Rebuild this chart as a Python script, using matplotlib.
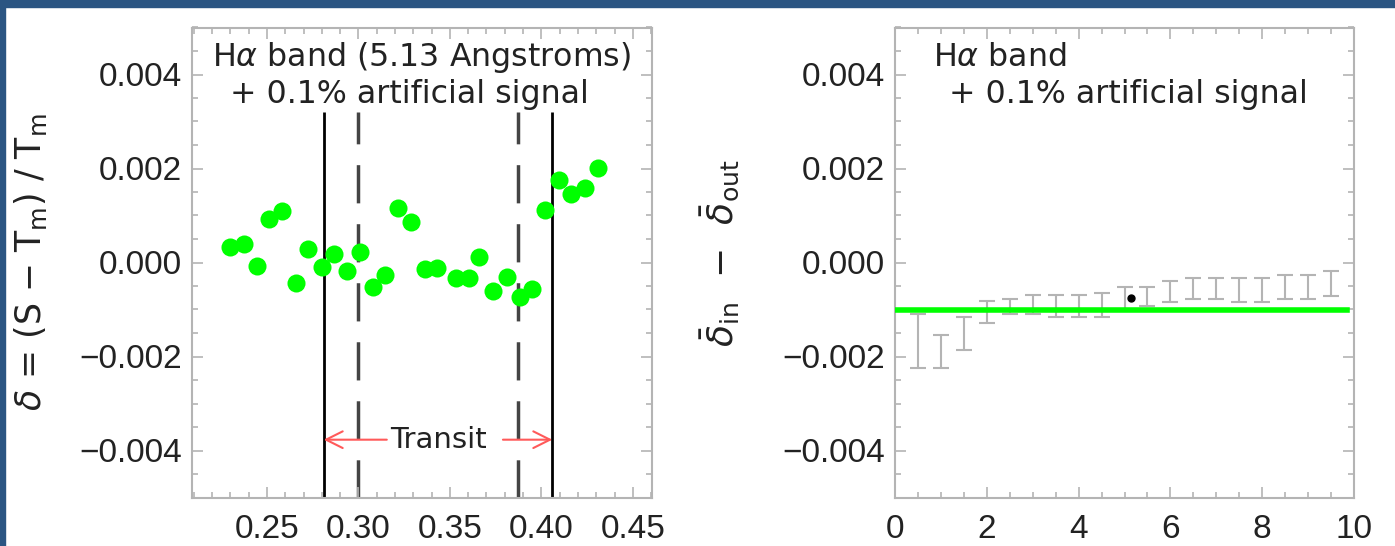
import matplotlib
matplotlib.use('Agg')
import matplotlib.pyplot as plt
from matplotlib.patches import Rectangle
from matplotlib.ticker import MultipleLocator, FuncFormatter
import numpy as np

# left panel: delta per orbital phase
phase = [0.2298, 0.2374, 0.2447, 0.2513, 0.2582, 0.2657, 0.2726, 0.2799,
         0.2866, 0.2936, 0.3008, 0.3078, 0.3145, 0.3217, 0.3285, 0.3363,
         0.3427, 0.3533, 0.3602, 0.3660, 0.3737, 0.3810, 0.3883, 0.3951,
         0.4022, 0.4095, 0.4163, 0.4237, 0.4310]
delta = [0.000335, 0.000384, -0.000070, 0.000923, 0.001094, -0.000426,
         0.000284, -0.000092, 0.000171, -0.000171, 0.000213, -0.000512,
         -0.000256, 0.001151, 0.000853, -0.000143, -0.000113, -0.000326,
         -0.000326, 0.000122, -0.000600, -0.000311, -0.000740, -0.000555,
         0.001122, 0.001753, 0.001450, 0.001583, 0.002006]
contact_solid = [0.281, 0.406]   # first / fourth contact
contact_dashed = [0.300, 0.387]  # second / third contact

# right panel: mean in-transit minus out-of-transit vs bin width
bin_width = [0.5, 1.0, 1.5, 2.0, 2.5, 3.0, 3.5, 4.0, 4.5, 5.0,
             5.5, 6.0, 6.5, 7.0, 7.5, 8.0, 8.5, 9.0, 9.5]
diff = [-0.001665, -0.00189, -0.00151, -0.00105, -0.00093, -0.00090,
        -0.00093, -0.00093, -0.00090, -0.00077, -0.00072, -0.000615,
        -0.00055, -0.00055, -0.00058, -0.00058, -0.00052, -0.00052, -0.00045]
diff_err = [0.000575, 0.00035, 0.00035, 0.000228, 0.00016, 0.00020,
            0.00023, 0.00023, 0.00026, 0.00025, 0.00020, 0.000225,
            0.00023, 0.00023, 0.00026, 0.00026, 0.00026, 0.00026, 0.00026]
chosen_x, chosen_y = 5.15, -0.00075
injected_signal = -0.001

GRAY = '#b4b4b4'
TXT = '#222222'
plt.rcParams['font.family'] = ['Liberation Sans', 'DejaVu Sans']
plt.rcParams['mathtext.fontset'] = 'dejavusans'
LABEL_FONT = ['DejaVu Sans']


def minus_fmt(fmt):
    return FuncFormatter(lambda v, p: (fmt % v).replace('-', '\u2212'))


def style_axes(ax):
    for s in ax.spines.values():
        s.set_color(GRAY)
        s.set_linewidth(1.5)
    ax.tick_params(which='both', direction='in', top=True, right=True,
                   color=GRAY, width=1.2, labelcolor=TXT, labelsize=24)
    ax.tick_params(which='major', length=8)
    ax.tick_params(which='minor', length=4)
    ax.tick_params(axis='x', pad=12)
    ax.tick_params(axis='y', pad=7)
    ax.set_ylim(-0.005, 0.005)
    ax.yaxis.set_major_locator(MultipleLocator(0.002))
    ax.yaxis.set_minor_locator(MultipleLocator(0.0005))
    ax.yaxis.set_major_formatter(minus_fmt('%.3f'))


fig = plt.figure(figsize=(13.95, 5.46), dpi=100)
fig.patches.append(Rectangle((0, 1 - 7 / 546), 1, 7 / 546, transform=fig.transFigure,
                             color='#2b5582', zorder=0))
fig.patches.append(Rectangle((0, 0), 5 / 1395, 1, transform=fig.transFigure,
                             color='#2b5582', zorder=0))

# ---- left panel ----
ax1 = fig.add_axes([192 / 1395, 48.5 / 546, 460 / 1395, 470 / 546])
style_axes(ax1)
ax1.set_xlim(0.209, 0.4605)
ax1.xaxis.set_major_locator(MultipleLocator(0.05))
ax1.xaxis.set_minor_locator(MultipleLocator(0.01))
ax1.xaxis.set_major_formatter(minus_fmt('%.2f'))

ax1.vlines(contact_solid, -0.005, 0.0032, color='black', lw=2, zorder=1)
ax1.vlines(contact_dashed, -0.005, 0.0032, color='#444444', lw=2.5,
           linestyles=(0, (11, 6)), zorder=1)
ax1.plot(phase, delta, 'o', color='#00ff00', ms=13, mec='none', zorder=3)

y_tr = -0.00377
arrow_kw = dict(arrowstyle='->', color='#ff5a5a', lw=1.5, mutation_scale=30,
                shrinkA=0, shrinkB=0)
ax1.annotate('', xy=(contact_solid[0], y_tr), xytext=(0.3155, y_tr), arrowprops=arrow_kw)
ax1.annotate('', xy=(contact_solid[1], y_tr), xytext=(0.3790, y_tr), arrowprops=arrow_kw)
ax1.text(0.3435, y_tr, 'Transit', ha='center', va='center', fontsize=21,
         color=TXT, family=LABEL_FONT)

ax1.text(0.0435, 0.937, r'H$\alpha$ band (5.13 Angstroms)', transform=ax1.transAxes,
         ha='left', va='center', fontsize=22.8, color=TXT, family=LABEL_FONT)
ax1.text(0.0826, 0.8585, '+ 0.1% artificial signal', transform=ax1.transAxes,
         ha='left', va='center', fontsize=22.8, color=TXT, family=LABEL_FONT)
ax1.set_ylabel(r'$\delta$ = (S $-$ T$_\mathrm{m}$) / T$_\mathrm{m}$', fontsize=25,
               color=TXT, family=LABEL_FONT)
ax1.yaxis.set_label_coords(-0.31, 0.5)

# ---- right panel ----
ax2 = fig.add_axes([895 / 1395, 48.5 / 546, 459 / 1395, 470 / 546])
style_axes(ax2)
ax2.set_xlim(0, 10)
ax2.xaxis.set_major_locator(MultipleLocator(2))
ax2.xaxis.set_minor_locator(MultipleLocator(0.5))
ax2.xaxis.set_major_formatter(FuncFormatter(lambda v, p: '%d' % v))

ax2.errorbar(bin_width, diff, yerr=diff_err, fmt='none', ecolor=GRAY,
             elinewidth=1.5, capsize=6, capthick=1.5, zorder=2)
ax2.plot([0, 9.85], [injected_signal, injected_signal], color='#00ff00', lw=4, zorder=3)
ax2.plot([chosen_x], [chosen_y], 'o', color='black', ms=5, zorder=4)

ax2.text(0.083, 0.937, r'H$\alpha$ band', transform=ax2.transAxes,
         ha='left', va='center', fontsize=22.8, color=TXT, family=LABEL_FONT)
ax2.text(0.1176, 0.8585, '+ 0.1% artificial signal', transform=ax2.transAxes,
         ha='left', va='center', fontsize=22.8, color=TXT, family=LABEL_FONT)
ax2.set_ylabel(r'$\bar{\delta}_\mathrm{in}$  $-$  $\bar{\delta}_\mathrm{out}$', fontsize=26,
               color=TXT, family=LABEL_FONT)
ax2.yaxis.set_label_coords(-0.335, 0.52)

fig.savefig('out.png', dpi=100)
